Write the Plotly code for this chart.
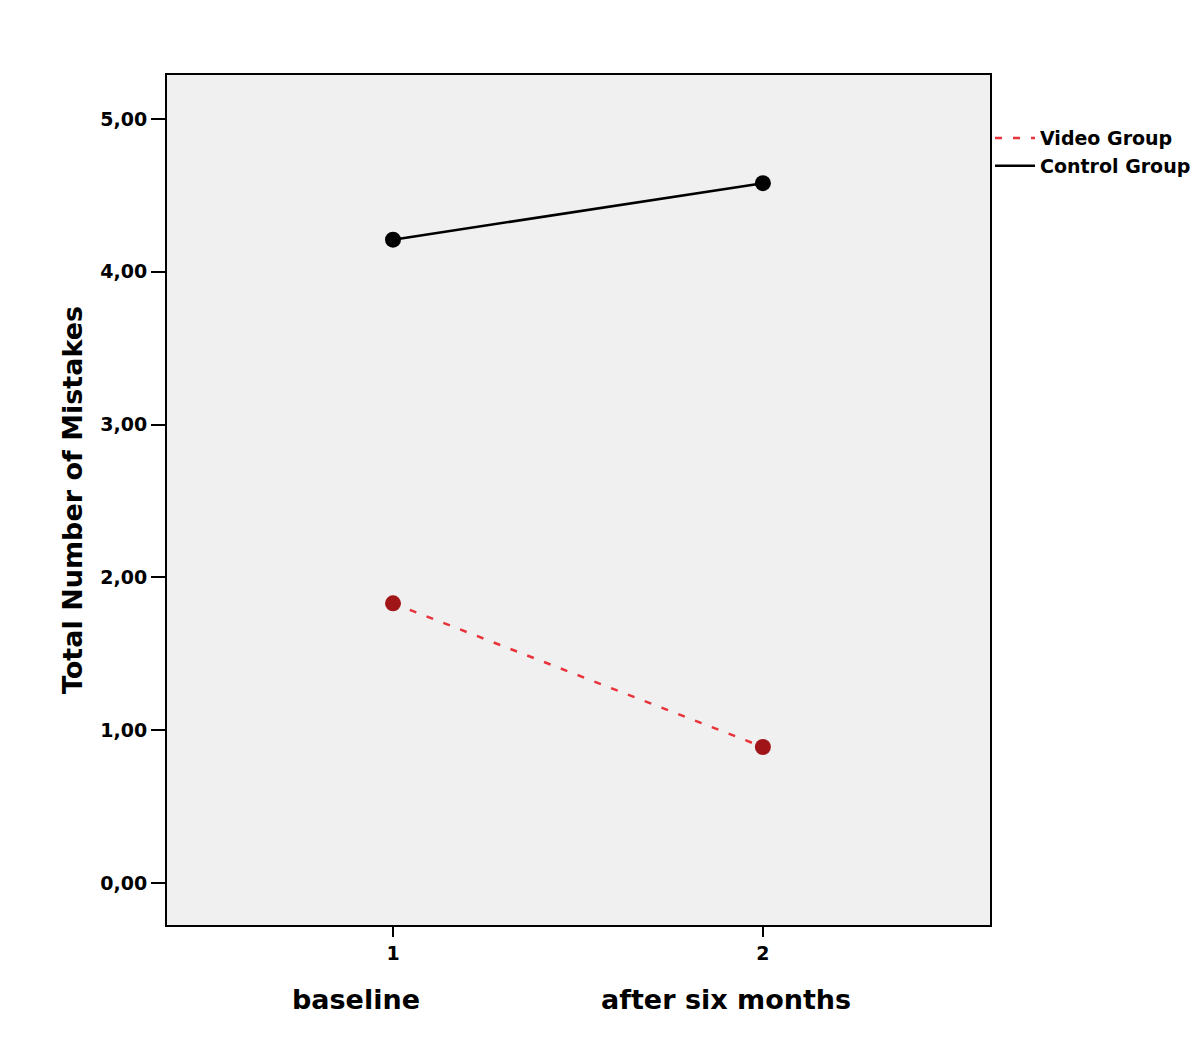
import plotly.graph_objects as go

time_points = [1, 2]
category_labels = ["baseline", "after six months"]
video_group = [1.83, 0.89]
control_group = [4.21, 4.58]
y_ticks = [0, 1, 2, 3, 4, 5]

FONT = "DejaVu Sans, Liberation Sans, Arial, sans-serif"

fig = go.Figure()
# Legend/line traces
fig.add_trace(go.Scatter(x=time_points, y=video_group, mode="lines", name="<b>Video Group</b>",
                         line=dict(color="#e8333a", width=2.5, dash="7px,11px")))
fig.add_trace(go.Scatter(x=time_points, y=control_group, mode="lines", name="<b>Control Group</b>",
                         line=dict(color="black", width=2.5)))
# Markers
fig.add_trace(go.Scatter(x=time_points, y=video_group, mode="markers", showlegend=False,
                         marker=dict(color="#a01518", size=16)))
fig.add_trace(go.Scatter(x=time_points, y=control_group, mode="markers", showlegend=False,
                         marker=dict(color="black", size=16)))

for xv, lab in zip(time_points, category_labels):
    fig.add_annotation(x=xv, xref="x", y=-0.088, yref="paper", text=f"<b>{lab}</b>",
                       showarrow=False, xshift=-37, yanchor="middle",
                       font=dict(family=FONT, size=27, color="black"))

fig.add_annotation(x=-0.1154, xref="paper", y=0.5, yref="paper", text="<b>Total Number of Mistakes</b>",
                   textangle=-90, showarrow=False, xanchor="center", yanchor="middle",
                   font=dict(family=FONT, size=27, color="black"))

fig.update_layout(
    width=1184, height=1024,
    margin=dict(l=159, r=202, t=67, b=107, autoexpand=False),
    paper_bgcolor="white", plot_bgcolor="#f0f0f0",
    separators=",.",
    font=dict(family=FONT, color="black"),
    legend=dict(x=1.0, xanchor="left", y=0.948, yanchor="top", bgcolor="rgba(0,0,0,0)",
                font=dict(family=FONT, size=19, color="black"), tracegroupgap=0,
                itemwidth=40),
    xaxis=dict(range=[0.389, 2.614], tickmode="array", tickvals=time_points,
               ticktext=["<b>1</b>", "<b>2</b>"], ticks="outside", ticklen=10, tickwidth=2,
               tickcolor="black", showgrid=False, zeroline=False, showline=True,
               linecolor="black", linewidth=2, mirror=True,
               tickfont=dict(family=FONT, size=19, color="black")),
    yaxis=dict(range=[-0.275, 5.288], tickmode="array", tickvals=y_ticks,
               ticktext=[f"<b>{v},00</b>" for v in y_ticks], ticks="outside", ticklen=14, tickwidth=2,
               tickcolor="black", showgrid=False, zeroline=False, showline=True,
               linecolor="black", linewidth=2, mirror=True,
               tickfont=dict(family=FONT, size=19, color="black")),
)

fig.write_html("out.html")
